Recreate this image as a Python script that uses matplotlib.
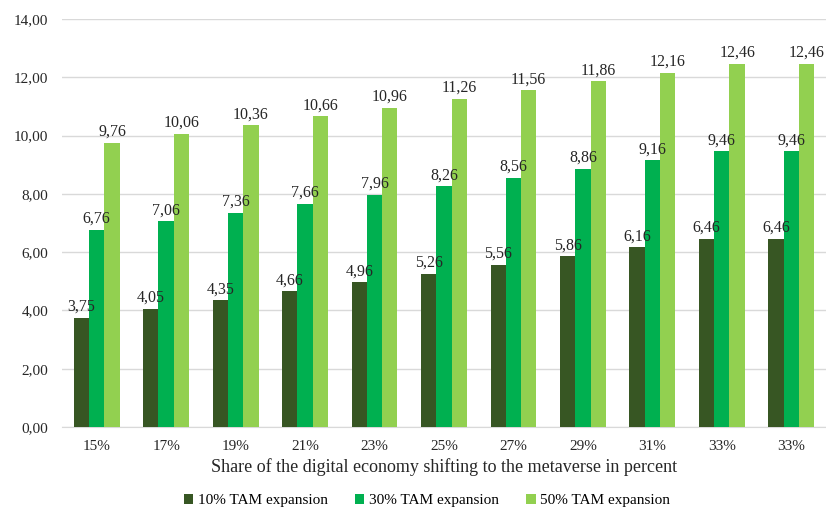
import matplotlib.pyplot as plt
import numpy as np

categories = ['15%', '17%', '19%', '21%', '23%', '25%', '27%', '29%', '31%', '33%', '33%']
tam10 = [3.75, 4.05, 4.35, 4.66, 4.96, 5.26, 5.56, 5.86, 6.16, 6.46, 6.46]
tam30 = [6.76, 7.06, 7.36, 7.66, 7.96, 8.26, 8.56, 8.86, 9.16, 9.46, 9.46]
tam50 = [9.76, 10.06, 10.36, 10.66, 10.96, 11.26, 11.56, 11.86, 12.16, 12.46, 12.46]
series_names = ['10% TAM expansion', '30% TAM expansion', '50% TAM expansion']
colors = ['#375623', '#00B050', '#92D050']

plt.rcParams['font.family'] = 'Liberation Serif'

fig = plt.figure(figsize=(8.26, 5.08), dpi=100)
ax = fig.add_axes([0.075, 0.1594, 0.925, 0.8032])

x = np.arange(len(categories))
w = 0.22
for i, (vals, name, c) in enumerate(zip([tam10, tam30, tam50], series_names, colors)):
    bars = ax.bar(x + (i - 1) * w, vals, w, color=c, label=name, zorder=3)
    for b, v in zip(bars, vals):
        ax.text(b.get_x() + b.get_width() / 2, v + 0.1, f'{v:.2f}'.replace('.', ','),
                ha='center', va='bottom', fontsize=11.5, color='#262626', zorder=5)

ax.set_xlim(-0.5, len(categories) - 0.5)
ax.set_ylim(0, 14)
ax.set_yticks(np.arange(0, 14.1, 2))
ax.set_yticklabels([f'{t:.2f}'.replace('.', ',') for t in np.arange(0, 14.1, 2)])
ax.set_xticks(x)
ax.set_xticklabels(categories)
ax.tick_params(axis='both', length=0, labelsize=11, colors='#262626')
ax.tick_params(axis='x', pad=9)
ax.tick_params(axis='y', pad=10)
ax.grid(axis='y', color='#D9D9D9', linewidth=1, zorder=0)
for s in ['top', 'right', 'left']:
    ax.spines[s].set_visible(False)
ax.spines['bottom'].set_color('#D9D9D9')

ax.set_xlabel('Share of the digital economy shifting to the metaverse in percent', fontsize=13, color='#262626', labelpad=4)

fig.legend(loc='lower center', ncol=3, frameon=False, fontsize=11, bbox_to_anchor=(0.517, -0.026),
           handlelength=0.6, handleheight=0.6, handletextpad=0.3, columnspacing=1.8)

fig.savefig('out.png', dpi=100)
